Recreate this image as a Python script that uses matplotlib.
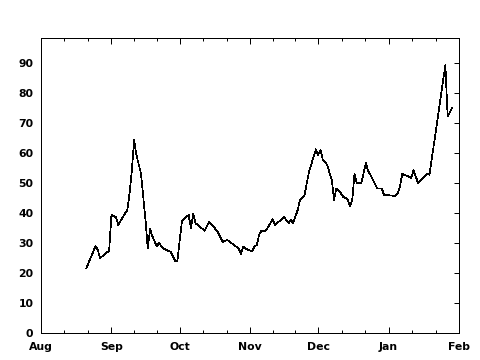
import matplotlib
matplotlib.use("Agg")
import matplotlib.pyplot as plt
import matplotlib.dates as mdates
import pandas as pd
import numpy as np

dates = ["2002-08-21", "2002-08-25", "2002-08-26", "2002-08-27", "2002-08-29", "2002-08-31",
         "2002-09-01", "2002-09-03", "2002-09-04", "2002-09-06", "2002-09-08", "2002-09-09",
         "2002-09-10", "2002-09-11", "2002-09-12", "2002-09-14", "2002-09-15", "2002-09-16",
         "2002-09-17", "2002-09-18", "2002-09-19", "2002-09-21", "2002-09-22", "2002-09-23",
         "2002-09-24", "2002-09-25", "2002-09-27", "2002-09-29", "2002-09-30",
         "2002-10-02", "2002-10-03", "2002-10-05", "2002-10-06", "2002-10-07", "2002-10-08",
         "2002-10-10", "2002-10-12", "2002-10-14", "2002-10-16", "2002-10-18", "2002-10-20",
         "2002-10-22", "2002-10-25", "2002-10-27", "2002-10-28", "2002-10-29", "2002-10-31",
         "2002-11-02", "2002-11-03", "2002-11-04", "2002-11-05", "2002-11-06", "2002-11-08",
         "2002-11-11", "2002-11-12", "2002-11-16", "2002-11-18", "2002-11-19", "2002-11-20",
         "2002-11-22", "2002-11-23", "2002-11-25", "2002-11-27", "2002-11-30",
         "2002-12-01", "2002-12-02", "2002-12-03", "2002-12-05", "2002-12-06", "2002-12-07",
         "2002-12-08", "2002-12-09", "2002-12-11", "2002-12-12", "2002-12-14", "2002-12-15",
         "2002-12-16", "2002-12-17", "2002-12-18", "2002-12-20", "2002-12-22", "2002-12-23",
         "2002-12-25", "2002-12-27", "2002-12-29", "2002-12-30",
         "2003-01-04", "2003-01-05", "2003-01-06", "2003-01-07", "2003-01-10", "2003-01-11",
         "2003-01-12", "2003-01-14", "2003-01-16", "2003-01-18", "2003-01-19",
         "2003-01-26", "2003-01-27", "2003-01-29"]

values = [21.7, 29.1, 27.8, 25.0, 26.4, 27.5,
          39.4, 38.7, 36.1, 38.7, 41.1, 46.7,
          54.4, 64.4, 59.4, 53.3, 45.5, 37.8,
          28.3, 34.7, 32.4, 28.9, 30.2, 28.9,
          28.3, 27.8, 27.2, 24.2, 23.9,
          37.2, 38.3, 39.4, 35.0, 39.8, 36.7,
          35.5, 34.2, 37.2, 35.5, 33.5, 30.5,
          31.1, 29.4, 28.3, 26.4, 28.8, 27.8,
          27.4, 29.1, 29.4, 32.8, 34.2, 34.2,
          38.0, 36.1, 38.7, 36.7, 37.8, 36.7,
          41.1, 44.4, 46.1, 53.9, 61.3,
          59.4, 61.1, 58.0, 56.1, 53.5, 51.1,
          44.4, 48.3, 46.7, 45.5, 44.7, 42.4,
          44.4, 53.1, 50.0, 50.0, 56.7, 54.2,
          51.3, 48.3, 48.3, 46.1,
          45.8, 46.7, 48.7, 53.1, 52.2, 51.7,
          54.4, 50.0, 51.7, 53.3, 52.8,
          89.4, 72.2, 75.2]

month_ticks = ["2002-08-01", "2002-09-01", "2002-10-01", "2002-11-01",
               "2002-12-01", "2003-01-01", "2003-02-01"]
month_labels = ["Aug", "Sep", "Oct", "Nov", "Dec", "Jan", "Feb"]
y_ticks = [0, 10, 20, 30, 40, 50, 60, 70, 80, 90]

x = pd.to_datetime(dates)
tick_dt = pd.to_datetime(month_ticks)
tick_num = mdates.date2num(tick_dt)

fig = plt.figure(figsize=(4.8, 3.6), dpi=100)
ax = fig.add_axes([41/480, 26.7/360, (459-41)/480, (333.3-38.3)/360])
ax.plot(x, values, color="black", linewidth=0.5, antialiased=False)

ax.set_xlim(tick_num[0], tick_num[-1])
ax.set_ylim(0, 98.3)

ax.set_xticks(tick_num)
ax.set_xticklabels(month_labels)
minor = []
for a, b in zip(tick_num[:-1], tick_num[1:]):
    minor += [a + (b - a) / 3, a + 2 * (b - a) / 3]
ax.set_xticks(minor, minor=True)
ax.set_yticks(y_ticks)
ax.set_yticklabels([str(v) for v in y_ticks])

for lab in ax.get_xticklabels() + ax.get_yticklabels():
    lab.set_fontfamily("DejaVu Sans")
    lab.set_fontweight("bold")
    lab.set_fontsize(7.8)

ax.tick_params(axis="x", which="major", direction="in", length=4.5, width=0.72,
               top=True, bottom=True, pad=6.5)
ax.tick_params(axis="x", which="minor", direction="in", length=2.3, width=0.72,
               top=True, bottom=True)
ax.tick_params(axis="y", which="major", direction="in", length=3.5, width=0.72,
               left=False, right=True, pad=5.5)
for s in ax.spines.values():
    s.set_linewidth(0.72)

fig.savefig("out.png", dpi=100)
